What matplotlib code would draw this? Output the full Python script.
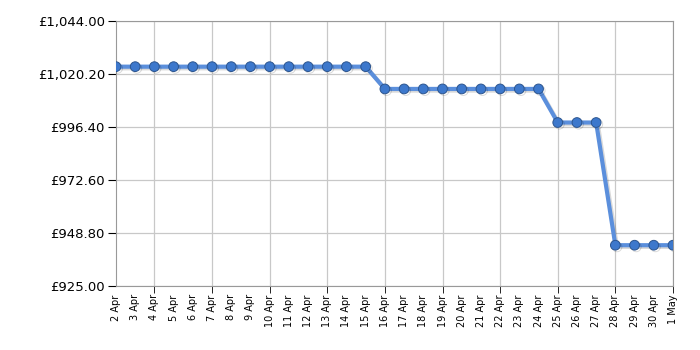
import matplotlib
matplotlib.use("Agg")
import matplotlib.pyplot as plt
import matplotlib.patheffects as pe

DAYS = [f"{d} Apr" for d in range(2, 31)] + ["1 May"]
PRICES = [1023.49] * 14 + [1013.49] * 9 + [998.40] * 3 + [943.30] * 4
Y_TICKS = [925.00, 948.80, 972.60, 996.40, 1020.20, 1044.00]
MAJOR_EVERY = 3


def plot_prices():
    fig = plt.figure(figsize=(7, 3.5), dpi=100)
    ax = fig.add_axes([0.1657, 0.183, 0.7957, 0.757])
    x = list(range(len(DAYS)))

    ax.plot(x, PRICES, color="#5b8fdc", linewidth=3.0, marker="o",
            markersize=7, markerfacecolor="#3d78cc",
            markeredgecolor="#2c558f", markeredgewidth=0.7, zorder=3,
            path_effects=[pe.SimpleLineShadow(offset=(1.2, -1.2),
                                              shadow_color="black", alpha=0.15),
                          pe.Normal()])

    ax.set_xlim(0, len(DAYS) - 1)
    ax.set_ylim(Y_TICKS[0], Y_TICKS[-1])
    ax.set_yticks(Y_TICKS)
    ax.set_yticklabels([f"£{v:,.2f}" for v in Y_TICKS], fontsize=9.5)

    # labels on every day, tick marks and grid every third day
    ax.xaxis.remove_overlapping_locs = False
    ax.set_xticks(x)
    ax.set_xticklabels(DAYS, rotation=90, fontsize=7)
    ax.tick_params(axis="x", which="major", length=0, pad=6)
    major = [i for i in x if (i - 2) % MAJOR_EVERY == 0]
    ax.set_xticks(major, minor=True)
    ax.tick_params(axis="x", which="minor", length=5, color="black")
    ax.tick_params(axis="y", length=6, color="black", pad=2)

    ax.grid(False, axis="x", which="major")
    ax.grid(True, axis="x", which="minor", color="#c8c8c8", linewidth=0.9)
    ax.grid(True, axis="y", which="major", color="#c8c8c8", linewidth=0.9)
    for side in ax.spines.values():
        side.set_color("#999999")
    ax.set_axisbelow(True)

    fig.savefig("out.png", dpi=100)


if __name__ == "__main__":
    plot_prices()
